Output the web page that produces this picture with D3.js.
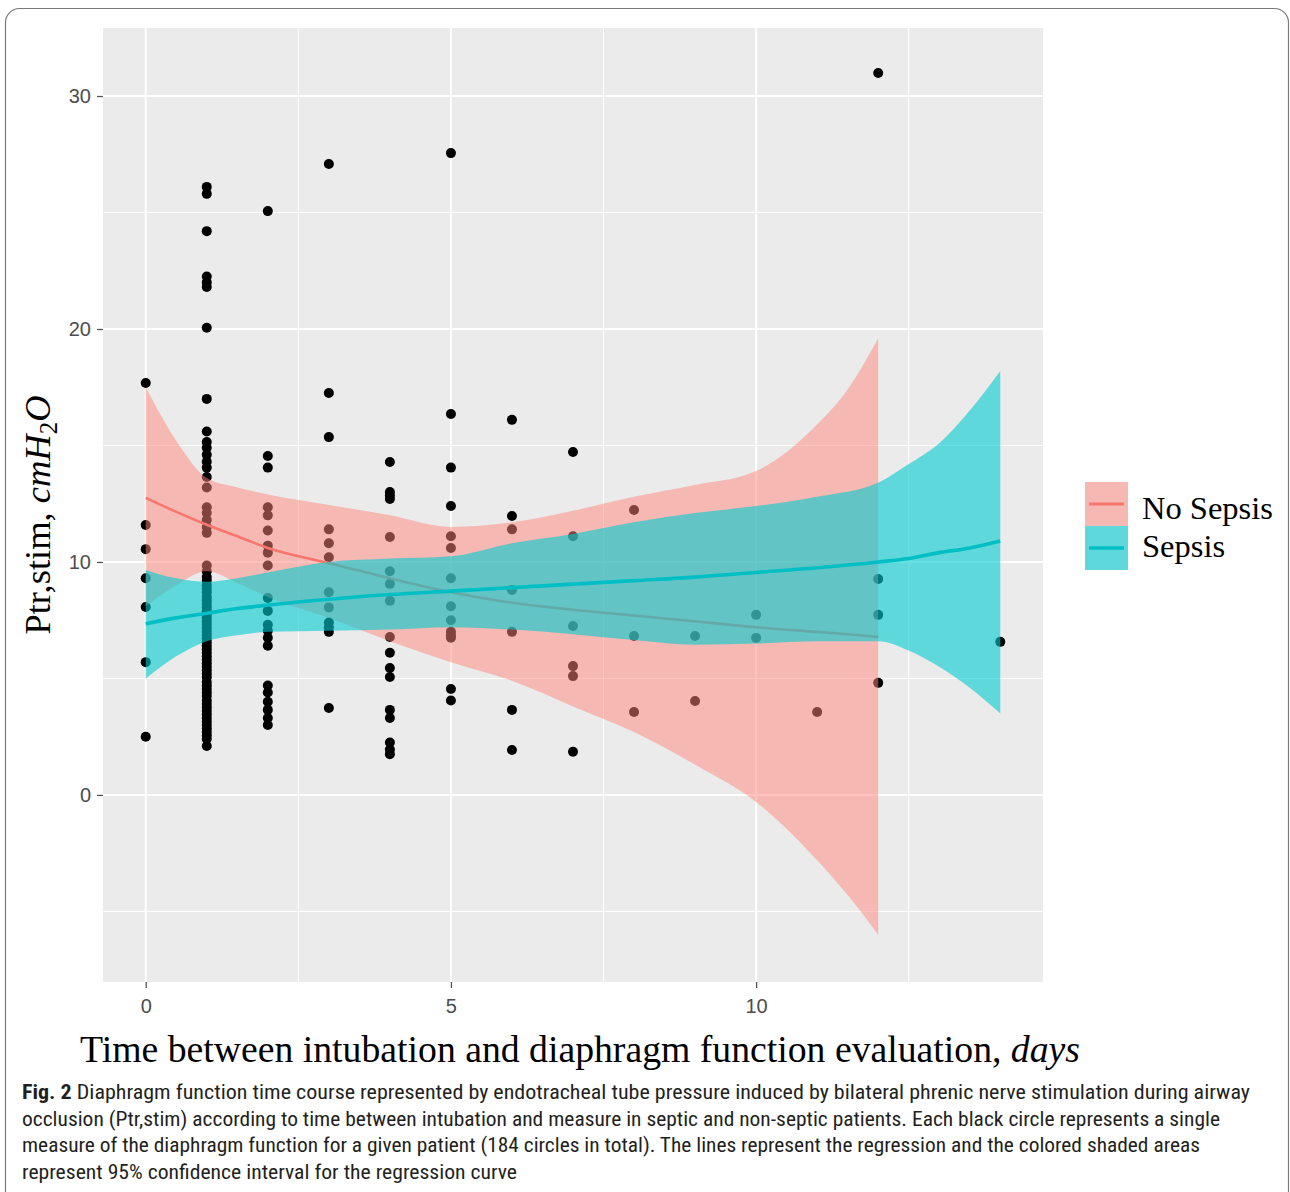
<!DOCTYPE html>
<html>
<head>
<meta charset="utf-8">
<script src="https://cdn.jsdelivr.net/npm/d3@7"></script>
<style>
  html, body { margin: 0; padding: 0; background: #ffffff; }
  svg { display: block; }
</style>
</head>
<body>
<script>
// ---------------- DATA ----------------
const pointDays = [0, 1, 2, 3, 4, 5, 6, 7, 8, 9, 10, 11, 12, 14];
const day0 = [17.68, 11.59, 10.55, 9.3, 8.07, 5.7, 2.5];
const day1 = [26.1, 25.8, 24.2, 22.25, 22.0, 21.8, 20.05, 17.0, 15.6, 15.15, 14.9, 14.6, 14.3, 14.05, 13.65, 13.2,
  12.35, 12.1, 11.8, 11.5, 11.25, 9.85, 9.6, 9.35, 9.2, 9.0, 8.85, 8.7, 8.5, 8.35, 8.2, 8.05, 7.9, 7.75, 7.6, 7.45,
  7.3, 7.15, 7.0, 6.85, 6.7, 6.55, 6.4, 6.25, 6.1, 5.95, 5.8, 5.65, 5.5, 5.35, 5.2, 5.05, 4.85, 4.7, 4.55, 4.4,
  4.25, 4.05, 3.9, 3.75, 3.6, 3.45, 3.3, 3.15, 3.0, 2.85, 2.7, 2.55, 2.4, 2.1];
const day2 = [25.06, 14.55, 14.05, 12.35, 12.0, 11.35, 10.7, 10.4, 9.85, 8.45, 7.9, 7.3, 7.05, 6.75, 6.4, 4.7, 4.4, 4.0, 3.65, 3.3, 3.0];
const day3 = [27.08, 17.25, 15.36, 11.4, 10.8, 10.2, 8.7, 8.05, 7.4, 7.2, 7.0, 3.73];
const day4 = [14.29, 13.0, 12.85, 12.7, 11.07, 9.6, 9.06, 8.33, 6.78, 6.1, 5.45, 5.06, 3.65, 3.3, 2.25, 1.95, 1.75];
const day5 = [27.55, 16.35, 14.05, 12.4, 11.1, 10.6, 9.3, 8.1, 7.5, 7.0, 6.85, 6.75, 4.55, 4.05];
const day6 = [16.1, 11.97, 11.4, 8.8, 7.0, 3.65, 1.93];
const day7 = [14.72, 11.1, 7.25, 5.53, 5.1, 1.85];
const day8 = [12.23, 6.82, 3.56];
const day9 = [6.82, 4.03];
const day10 = [7.73, 6.74];
const day11 = [3.56];
const day12 = [30.99, 9.27, 7.73, 4.81];
const day14 = [6.57];
const pointValues = [day0, day1, day2, day3, day4, day5, day6, day7, day8, day9, day10, day11, day12, day14];

const noSepsisX     = [0, 0.5, 1, 1.5, 2, 3, 4, 5, 6, 7, 8, 9, 10, 11, 11.5, 12];
const noSepsisFit   = [12.75, 12.15, 11.6, 11.1, 10.6, 9.95, 9.3, 8.7, 8.25, 7.95, 7.7, 7.45, 7.2, 7.0, 6.9, 6.78];
const noSepsisUpper = [17.5, 15.2, 13.6, 13.2, 12.9, 12.45, 12.0, 11.5, 11.7, 12.2, 12.8, 13.3, 13.9, 15.9, 17.4, 19.6];
const noSepsisLower = [8.1, 9.0, 9.6, 9.1, 8.5, 7.6, 6.6, 5.7, 4.9, 3.8, 2.7, 1.3, -0.3, -2.8, -4.3, -6.0];

const sepsisX     = [0, 0.5, 1, 1.5, 2, 3, 4, 5, 6, 7, 8, 9, 10, 11, 12, 12.5, 13, 13.5, 14];
const sepsisFit   = [7.35, 7.6, 7.8, 8.0, 8.15, 8.4, 8.6, 8.75, 8.9, 9.05, 9.2, 9.35, 9.55, 9.75, 10.0, 10.15, 10.4, 10.6, 10.9];
const sepsisUpper = [9.66, 9.3, 9.15, 9.3, 9.55, 10.0, 10.15, 10.25, 10.8, 11.2, 11.7, 12.1, 12.4, 12.8, 13.4, 14.2, 15.1, 16.5, 18.2];
const sepsisLower = [5.0, 5.95, 6.6, 6.85, 7.0, 7.05, 7.1, 7.2, 7.1, 6.9, 6.65, 6.45, 6.5, 6.6, 6.6, 6.2, 5.5, 4.6, 3.5];

const xMajorTicks = [0, 5, 10];
const xMinorTicks = [2.5, 7.5, 12.5];
const yMajorTicks = [0, 10, 20, 30];
const yMinorTicks = [-5, 5, 15, 25];
const legendLabels = ["No Sepsis", "Sepsis"];
const captionLines = [
  "Diaphragm function time course represented by endotracheal tube pressure induced by bilateral phrenic nerve stimulation during airway",
  "occlusion (Ptr,stim) according to time between intubation and measure in septic and non-septic patients. Each black circle represents a single",
  "measure of the diaphragm function for a given patient (184 circles in total). The lines represent the regression and the colored shaded areas",
  "represent 95% confidence interval for the regression curve"
];

// ---------------- LAYOUT ----------------
const W = 1290, H = 1192;
const panel = { left: 103, right: 1043, top: 28, bottom: 982 };
const RED = "#F8766D", CYAN = "#00BFC4";
const PINK_FILL = "#FF857C", PINK_OP = 0.5;
const CYAN_FILL = "#00CCD0", CYAN_OP = 0.6;

const svg = d3.select("body").append("svg").attr("width", W).attr("height", H);

// outer frame
svg.append("rect").attr("x", 5.5).attr("y", 8.5).attr("width", 1283).attr("height", 1210)
  .attr("rx", 14).attr("fill", "none").attr("stroke", "#7a7a7a").attr("stroke-width", 1.2);

const x = d3.scaleLinear().domain([-0.7, 14.7]).range([panel.left, panel.right]);
const y = d3.scaleLinear().domain([-8.03, 32.92]).range([panel.bottom, panel.top]);

// panel background
svg.append("rect").attr("x", panel.left).attr("y", panel.top)
  .attr("width", panel.right - panel.left).attr("height", panel.bottom - panel.top)
  .attr("fill", "#EBEBEB");

const grid = svg.append("g");
grid.selectAll(".xmin").data(xMinorTicks).join("line")
  .attr("x1", d => x(d)).attr("x2", d => x(d)).attr("y1", panel.top).attr("y2", panel.bottom)
  .attr("stroke", "#fff").attr("stroke-width", 1);
grid.selectAll(".ymin").data(yMinorTicks).join("line")
  .attr("y1", d => y(d)).attr("y2", d => y(d)).attr("x1", panel.left).attr("x2", panel.right)
  .attr("stroke", "#fff").attr("stroke-width", 1);
grid.selectAll(".xmaj").data(xMajorTicks).join("line")
  .attr("x1", d => x(d)).attr("x2", d => x(d)).attr("y1", panel.top).attr("y2", panel.bottom)
  .attr("stroke", "#fff").attr("stroke-width", 2);
grid.selectAll(".ymaj").data(yMajorTicks).join("line")
  .attr("y1", d => y(d)).attr("y2", d => y(d)).attr("x1", panel.left).attr("x2", panel.right)
  .attr("stroke", "#fff").attr("stroke-width", 2);

// points
const points = [];
pointDays.forEach((d, i) => pointValues[i].forEach(v => points.push({ d, v })));
svg.append("g").selectAll("circle").data(points).join("circle")
  .attr("cx", p => x(p.d)).attr("cy", p => y(p.v)).attr("r", 5).attr("fill", "#000");

function ribbon(xs, lo, hi) {
  return d3.area().x(i => x(xs[i])).y0(i => y(lo[i])).y1(i => y(hi[i])).curve(d3.curveMonotoneX)(d3.range(xs.length));
}
function fitLine(xs, f) {
  return d3.line().x(i => x(xs[i])).y(i => y(f[i])).curve(d3.curveMonotoneX)(d3.range(xs.length));
}

// No Sepsis
svg.append("path").attr("d", ribbon(noSepsisX, noSepsisLower, noSepsisUpper))
  .attr("fill", PINK_FILL).attr("fill-opacity", PINK_OP);
svg.append("path").attr("d", fitLine(noSepsisX, noSepsisFit))
  .attr("fill", "none").attr("stroke", RED).attr("stroke-width", 2.6);
// Sepsis
svg.append("path").attr("d", ribbon(sepsisX, sepsisLower, sepsisUpper))
  .attr("fill", CYAN_FILL).attr("fill-opacity", CYAN_OP);
svg.append("path").attr("d", fitLine(sepsisX, sepsisFit))
  .attr("fill", "none").attr("stroke", CYAN).attr("stroke-width", 3.6);

// axes
const axisColor = "#4D4D4D";
const yAxis = svg.append("g").attr("transform", `translate(${panel.left},0)`)
  .call(d3.axisLeft(y).tickValues(yMajorTicks).tickSize(6).tickPadding(6).tickFormat(d3.format("d")));
const xAxis = svg.append("g").attr("transform", `translate(0,${panel.bottom})`)
  .call(d3.axisBottom(x).tickValues(xMajorTicks).tickSize(6).tickPadding(11).tickFormat(d3.format("d")));
[xAxis, yAxis].forEach(a => {
  a.select(".domain").remove();
  a.selectAll(".tick line").attr("stroke", "#555").attr("stroke-width", 1.3);
  a.selectAll(".tick text").attr("fill", axisColor)
    .style("font-family", "'Liberation Sans', Arial, sans-serif").style("font-size", "20px");
});

// axis titles
const xt = svg.append("text").attr("x", 80).attr("y", 1062)
  .attr("textLength", 1000).attr("lengthAdjust", "spacingAndGlyphs")
  .style("font-family", "'Liberation Serif', 'Times New Roman', serif").style("font-size", "37px").attr("fill", "#000");
xt.append("tspan").text("Time between intubation and diaphragm function evaluation, ");
xt.append("tspan").style("font-style", "italic").text("days");

const yt = svg.append("text").attr("transform", "translate(50,515) rotate(-90)").attr("text-anchor", "middle")
  .style("font-family", "'Liberation Serif', 'Times New Roman', serif").style("font-size", "36.5px").attr("fill", "#000");
yt.append("tspan").text("Ptr,stim, ");
yt.append("tspan").style("font-style", "italic").text("cmH");
yt.append("tspan").attr("dy", 7).style("font-size", "25px").text("2");
yt.append("tspan").attr("dy", -7).style("font-style", "italic").text("O");

// legend
const legend = svg.append("g");
const keyFill = [[PINK_FILL, PINK_OP, RED, 2.8], [CYAN_FILL, CYAN_OP, CYAN, 3.6]];
legendLabels.forEach((lab, i) => {
  const ky = 482 + i * 44;
  legend.append("rect").attr("x", 1085).attr("y", ky).attr("width", 43).attr("height", 44).attr("fill", "#EBEBEB");
  legend.append("rect").attr("x", 1085).attr("y", ky).attr("width", 43).attr("height", 44)
    .attr("fill", keyFill[i][0]).attr("fill-opacity", keyFill[i][1]);
  legend.append("line").attr("x1", 1089).attr("x2", 1124).attr("y1", ky + 22).attr("y2", ky + 22)
    .attr("stroke", keyFill[i][2]).attr("stroke-width", keyFill[i][3]);
  legend.append("text").attr("x", 1142).attr("y", ky + 37 - i * 6).text(lab)
    .style("font-family", "'Liberation Serif', 'Times New Roman', serif").style("font-size", "32.5px").attr("fill", "#000");
});

// caption
const capWidths = [1228, 1198, 1178, 495];
const capFont = "'Liberation Sans Narrow', 'Roboto Condensed', 'Open Sans', sans-serif";
captionLines.forEach((line, i) => {
  const t = svg.append("text").attr("x", 22).attr("y", 1099 + i * 26.5)
    .attr("textLength", capWidths[i]).attr("lengthAdjust", "spacingAndGlyphs")
    .style("font-family", capFont).style("font-size", "19.5px").attr("fill", "#231F20");
  if (i === 0) {
    t.append("tspan").style("font-weight", "bold").text("Fig. 2");
    t.append("tspan").text("  " + line);
  } else {
    t.text(line);
  }
});
</script>
</body>
</html>
